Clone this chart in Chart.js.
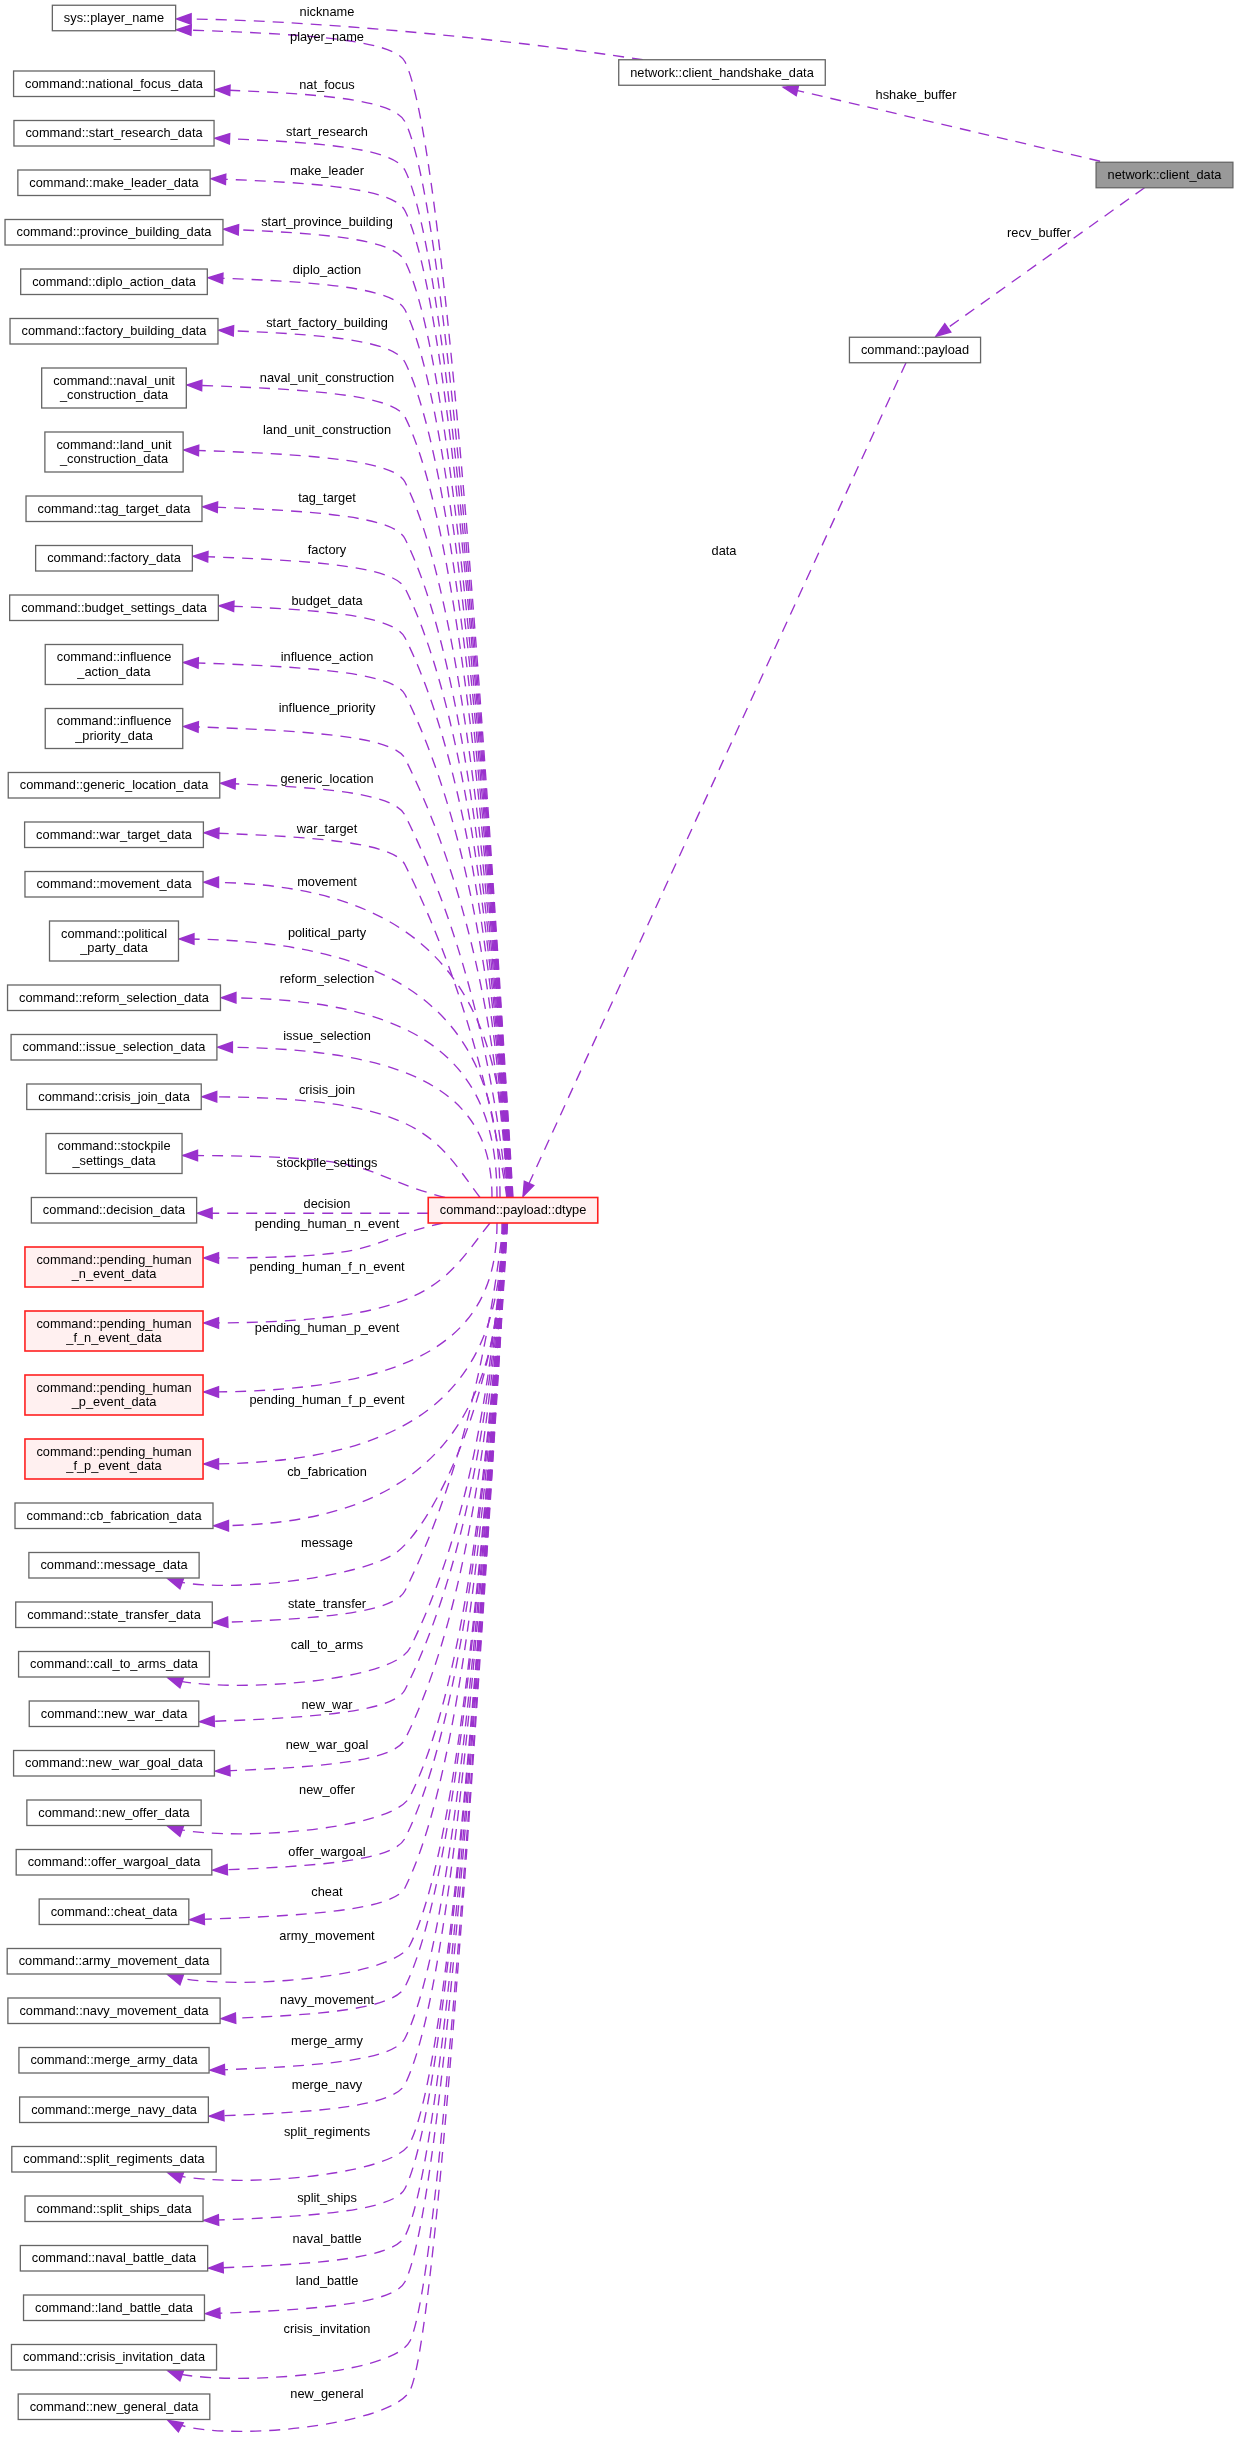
<!DOCTYPE html>
<html>
<head>
<meta charset="utf-8">
<script src="https://cdn.jsdelivr.net/npm/chart.js@4/dist/chart.umd.min.js"></script>
<style>
html,body{margin:0;padding:0;background:#ffffff;}
#wrap{width:1239px;height:2449px;position:relative;}
</style>
</head>
<body>
<div id="wrap"><canvas id="c" width="1239" height="2449"></canvas></div>
<script>
// ===================== DATA =====================
// member types (left column, top to bottom)
const memberTypes = [
  'sys::player_name',
  'command::national_focus_data',
  'command::start_research_data',
  'command::make_leader_data',
  'command::province_building_data',
  'command::diplo_action_data',
  'command::factory_building_data',
  'command::naval_unit\n_construction_data',
  'command::land_unit\n_construction_data',
  'command::tag_target_data',
  'command::factory_data',
  'command::budget_settings_data',
  'command::influence\n_action_data',
  'command::influence\n_priority_data',
  'command::generic_location_data',
  'command::war_target_data',
  'command::movement_data',
  'command::political\n_party_data',
  'command::reform_selection_data',
  'command::issue_selection_data',
  'command::crisis_join_data',
  'command::stockpile\n_settings_data',
  'command::decision_data',
  'command::pending_human\n_n_event_data',
  'command::pending_human\n_f_n_event_data',
  'command::pending_human\n_p_event_data',
  'command::pending_human\n_f_p_event_data',
  'command::cb_fabrication_data',
  'command::message_data',
  'command::state_transfer_data',
  'command::call_to_arms_data',
  'command::new_war_data',
  'command::new_war_goal_data',
  'command::new_offer_data',
  'command::offer_wargoal_data',
  'command::cheat_data',
  'command::army_movement_data',
  'command::navy_movement_data',
  'command::merge_army_data',
  'command::merge_navy_data',
  'command::split_regiments_data',
  'command::split_ships_data',
  'command::naval_battle_data',
  'command::land_battle_data',
  'command::crisis_invitation_data',
  'command::new_general_data'
];
// member variable names of command::payload::dtype (edge labels), same order
const memberNames = [
  'player_name','nat_focus','start_research','make_leader','start_province_building',
  'diplo_action','start_factory_building','naval_unit_construction','land_unit_construction',
  'tag_target','factory','budget_data','influence_action','influence_priority',
  'generic_location','war_target','movement','political_party','reform_selection',
  'issue_selection','crisis_join','stockpile_settings','decision','pending_human_n_event',
  'pending_human_f_n_event','pending_human_p_event','pending_human_f_p_event','cb_fabrication',
  'message','state_transfer','call_to_arms','new_war','new_war_goal','new_offer',
  'offer_wargoal','cheat','army_movement','navy_movement','merge_army','merge_navy',
  'split_regiments','split_ships','naval_battle','land_battle','crisis_invitation','new_general'
];
// incomplete (red) types
const incompleteTypes = [
  'command::pending_human\n_n_event_data',
  'command::pending_human\n_f_n_event_data',
  'command::pending_human\n_p_event_data',
  'command::pending_human\n_f_p_event_data',
  'command::payload::dtype'
];
// upper-right classes
const rootClass = 'network::client_data';
const handshakeClass = 'network::client_handshake_data';
const payloadClass = 'command::payload';
const dtypeClass = 'command::payload::dtype';
const upperEdgeLabels = ['nickname','hshake_buffer','recv_buffer','data'];

// ===================== LAYOUT (positions / styles) =====================
const FONT = '12.8px "Liberation Sans", Arial, Helvetica, sans-serif';
const EDGE = '#9a32cd';
const DASH = [11, 8];
const COL_X = 114, LABEL_X = 327, BEND_X = 405;
const H1 = 25.5, H2 = 40, GAP = 24, TOP0 = 5, TOP1 = 71, PADX = 11.5;
const DECISION_INDEX = 22;
const rightNodePos = { hand: [722, 72.5], root: [1164.5, 175], payload: [915, 350] };
const upperLabelPos = [[327, 12], [916, 95], [1039, 233], [724, 551]];
// label y offset from member node centre
const labelShift = [19,2,-1,-11,-10,-11,-8,-10,-22,-10,-8,-6,-7.5,-20.5,-6,-5,-2,-8,-18,-11,-6,10,-6,
  -43,-64,-67,-59,-43,-22,-10,-19,-8,-18,-22,-10,-19,-25,-10,-19,-24,-27,-10,-19,-26,-28,-12];
// arrow tip offset from node centre (right-side attachment)
const tipShift = [13,6,5,-4,-3,-4,-1,-3,-2,-2,-2,-2,-2,-2,-2,-2,-2,-2,0,0,0,2,3,
  -9,-8,-3,5,10,8,8,8,8,8,8,8,8,8,8,10,6.5,8,12,10,6,8,8];
const bottomAttach = [28,30,33,36,40,44,45];
const anchorOverride = {17:500,18:497,19:492,20:480,21:445,23:443,24:490,25:497,26:502};

// node centres (data space) derived from stacking order
const leftCentres = [];
(function(){
  let top = TOP1;
  memberTypes.forEach((t, i) => {
    const h = t.includes('\n') ? H2 : H1;
    if (i === 0) { leftCentres.push({x: COL_X, y: TOP0 + 13}); return; }
    leftCentres.push({x: COL_X, y: top + h / 2});
    top += h + GAP;
  });
})();
const dtypePos = {x: 513, y: leftCentres[DECISION_INDEX].y};
const allNames = memberTypes.concat([handshakeClass, rootClass, payloadClass, dtypeClass]);
const allPoints = leftCentres.concat([
  {x: rightNodePos.hand[0], y: rightNodePos.hand[1]},
  {x: rightNodePos.root[0], y: rightNodePos.root[1]},
  {x: rightNodePos.payload[0], y: rightNodePos.payload[1]},
  dtypePos
]);

// ===================== DRAWING =====================
function arrowHead(ctx, tip, from) {
  const dx = tip.x - from.x, dy = tip.y - from.y, l = Math.hypot(dx, dy) || 1;
  const ux = dx / l, uy = dy / l, L = 14.5, W = 5.2;
  const bx = tip.x - ux * L, by = tip.y - uy * L;
  ctx.setLineDash([]);
  ctx.beginPath();
  ctx.moveTo(tip.x, tip.y);
  ctx.lineTo(bx - uy * W, by + ux * W);
  ctx.lineTo(bx + uy * W, by - ux * W);
  ctx.closePath();
  ctx.fill();
  ctx.stroke();
}
function norm(x, y) { const l = Math.hypot(x, y) || 1; return {x: x / l, y: y / l}; }

const collabPlugin = {
  id: 'collab',
  afterDatasetsDraw(chart) {
    const ctx = chart.ctx, xs = chart.scales.x, ys = chart.scales.y;
    const px = v => xs.getPixelForValue(v), py = v => ys.getPixelForValue(v);
    const sy = Math.abs(py(1) - py(0));
    const pts = chart.getDatasetMeta(0).data;
    ctx.save();
    ctx.font = FONT;
    const boxes = allNames.map((n, k) => {
      const lines = n.split('\n');
      const w = Math.max(...lines.map(l => ctx.measureText(l).width)) + PADX * 2;
      const h = (lines.length > 1 ? H2 : H1) * sy;
      const x = pts[k].x, y = pts[k].y;
      return {x, y, w, h, l: x - w / 2, r: x + w / 2, t: y - h / 2, b: y + h / 2, lines, name: n};
    });
    const nL = memberTypes.length;
    const hand = boxes[nL], root = boxes[nL + 1], pay = boxes[nL + 2], dt = boxes[nL + 3];

    ctx.strokeStyle = EDGE; ctx.fillStyle = EDGE; ctx.lineWidth = 1.35;

    // ---- edges from dtype to member types ----
    memberTypes.forEach((t, i) => {
      const bx = boxes[i];
      const bottom = bottomAttach.includes(i);
      let T;
      if (bottom) T = {x: bx.x + 54, y: bx.b + 1};
      else {
        const s = Math.max(-bx.h / 2 + 1, Math.min(bx.h / 2 - 1, tipShift[i] * sy));
        T = {x: bx.r + 1, y: bx.y + s};
      }
      const above = i < DECISION_INDEX;
      let ax;
      if (anchorOverride[i] !== undefined) ax = px(anchorOverride[i]);
      else if (above) ax = px(513 - 0.4 * i);
      else ax = px(503 + (i - 27) * 0.25);
      ctx.setLineDash(DASH);
      ctx.beginPath();
      let from;
      if (i === DECISION_INDEX) {
        ctx.moveTo(dt.l, T.y); ctx.lineTo(T.x, T.y);
        ctx.stroke();
        arrowHead(ctx, T, {x: dt.l, y: T.y});
        return;
      }
      const A = {x: ax, y: above ? dt.t : dt.b};
      const d = Math.abs(A.y - T.y);
      const f = above ? 1 : -1;
      const hookDip = i === memberTypes.length - 1 ? 24 : 16;
      if (!bottom && d < 330) {
        // smooth arc
        const c = Math.max(0, 0.5 - d / 300);
        const C1 = {x: T.x + (A.x - T.x) * 0.8, y: T.y};
        const C2 = {x: A.x - c * (A.x - T.x), y: A.y - 0.6 * (A.y - T.y)};
        ctx.moveTo(A.x, A.y);
        ctx.bezierCurveTo(C2.x, C2.y, C1.x, C1.y, T.x, T.y);
        from = C1;
      } else if (bottom && d < 450) {
        // hook under the box, then smooth arc up to dtype
        const M = {x: px(BEND_X) - 8, y: T.y - 27};
        const dM = norm(1.33, -1);
        const C1 = {x: T.x + 45, y: T.y + hookDip};
        const C2 = {x: M.x - dM.x * 45, y: M.y - dM.y * 45};
        const C3 = {x: M.x + dM.x * 45, y: M.y + dM.y * 45};
        const C4 = {x: A.x, y: A.y + 0.5 * (M.y - A.y)};
        ctx.moveTo(A.x, A.y);
        ctx.bezierCurveTo(C4.x, C4.y, C3.x, C3.y, M.x, M.y);
        ctx.bezierCurveTo(C2.x, C2.y, C1.x, C1.y, T.x, T.y);
        from = C1;
      } else {
        const s0 = 0.5;
        const s1 = 0.06 + 0.3 * Math.max(0, 1 - (d - 160) / 300);
        const B = bottom ? {x: px(BEND_X) + 5, y: T.y - 30} : {x: px(BEND_X), y: T.y + f * 32};
        const By = f * B.y, Ay = f * A.y;
        let Qy = (A.x - B.x - s1 * Ay + s0 * By) / (s0 - s1);
        Qy = Math.max(By + 4, Math.min(Ay - 4, Qy));
        const Qx = Math.min(A.x, B.x + s0 * (Qy - By));
        const Q = {x: Qx, y: f * Qy};
        const u = norm(Q.x - B.x, Q.y - B.y);
        const k = bottom ? 40 : Math.min(25, 0.3 * Math.hypot(B.x - T.x, B.y - T.y));
        const C2 = {x: B.x - u.x * k, y: B.y - u.y * k};
        const C1 = bottom ? {x: T.x + 45, y: T.y + hookDip}
                          : {x: T.x + (B.x - T.x) * 0.55, y: T.y + (B.y - T.y) * 0.12};
        ctx.moveTo(A.x, A.y);
        ctx.quadraticCurveTo(Q.x, Q.y, B.x, B.y);
        ctx.bezierCurveTo(C2.x, C2.y, C1.x, C1.y, T.x, T.y);
        from = C1;
      }
      ctx.stroke();
      arrowHead(ctx, T, from);
    });

    // ---- upper edges ----
    const pn = boxes[0];
    // nickname: handshake -> player_name
    ctx.setLineDash(DASH);
    let T = {x: pn.r + 1, y: pn.y + 1};
    let S = {x: hand.l + 24, y: hand.t};
    let C1 = {x: px(300), y: T.y};
    ctx.beginPath(); ctx.moveTo(S.x, S.y);
    ctx.bezierCurveTo(px(500), py(38), C1.x, C1.y, T.x, T.y); ctx.stroke();
    arrowHead(ctx, T, C1);
    // hshake_buffer: client_data -> handshake
    ctx.setLineDash(DASH);
    S = {x: root.l + 4, y: root.t - 1}; T = {x: hand.r - 42, y: hand.b + 2};
    ctx.beginPath(); ctx.moveTo(S.x, S.y); ctx.lineTo(T.x, T.y); ctx.stroke();
    arrowHead(ctx, T, S);
    // recv_buffer: client_data -> payload
    ctx.setLineDash(DASH);
    S = {x: root.x - 20, y: root.b}; T = {x: pay.x + 21, y: pay.t - 1};
    ctx.beginPath(); ctx.moveTo(S.x, S.y); ctx.lineTo(T.x, T.y); ctx.stroke();
    arrowHead(ctx, T, S);
    // data: payload -> dtype
    ctx.setLineDash(DASH);
    S = {x: pay.x - 9, y: pay.b}; T = {x: dt.x + 10, y: dt.t - 1};
    ctx.beginPath(); ctx.moveTo(S.x, S.y); ctx.lineTo(T.x, T.y); ctx.stroke();
    arrowHead(ctx, T, S);

    // ---- boxes ----
    ctx.setLineDash([]);
    ctx.textAlign = 'center'; ctx.textBaseline = 'middle';
    boxes.forEach(b => {
      const red = incompleteTypes.includes(b.name);
      const isRoot = b.name === rootClass;
      ctx.fillStyle = red ? '#fff0f0' : (isRoot ? '#999999' : '#ffffff');
      ctx.strokeStyle = red ? '#ff2020' : '#666666';
      ctx.lineWidth = red ? 1.6 : 1.3;
      ctx.fillRect(b.l, b.t, b.w, b.h);
      ctx.strokeRect(b.l, b.t, b.w, b.h);
      ctx.fillStyle = '#000000';
      if (b.lines.length === 1) ctx.fillText(b.lines[0], b.x, b.y + 0.5);
      else {
        ctx.fillText(b.lines[0], b.x, b.y - 7);
        ctx.fillText(b.lines[1], b.x, b.y + 7.5);
      }
    });

    // ---- edge labels ----
    ctx.fillStyle = '#000000';
    memberNames.forEach((m, i) => {
      ctx.fillText(m, px(LABEL_X), boxes[i].y + labelShift[i] * sy);
    });
    upperEdgeLabels.forEach((m, i) => {
      ctx.fillText(m, px(upperLabelPos[i][0]), py(upperLabelPos[i][1]));
    });
    ctx.restore();
  }
};

new Chart(document.getElementById('c').getContext('2d'), {
  type: 'scatter',
  data: { datasets: [{ data: allPoints, pointRadius: 0, pointHoverRadius: 0 }] },
  options: {
    responsive: false, animation: false, devicePixelRatio: 1,
    layout: { padding: 0 },
    events: [],
    plugins: { legend: { display: false }, tooltip: { enabled: false } },
    scales: {
      x: { type: 'linear', display: false, min: 0, max: 1239 },
      y: { type: 'linear', display: false, min: 0, max: 2449, reverse: true }
    }
  },
  plugins: [collabPlugin]
});
</script>
</body>
</html>
